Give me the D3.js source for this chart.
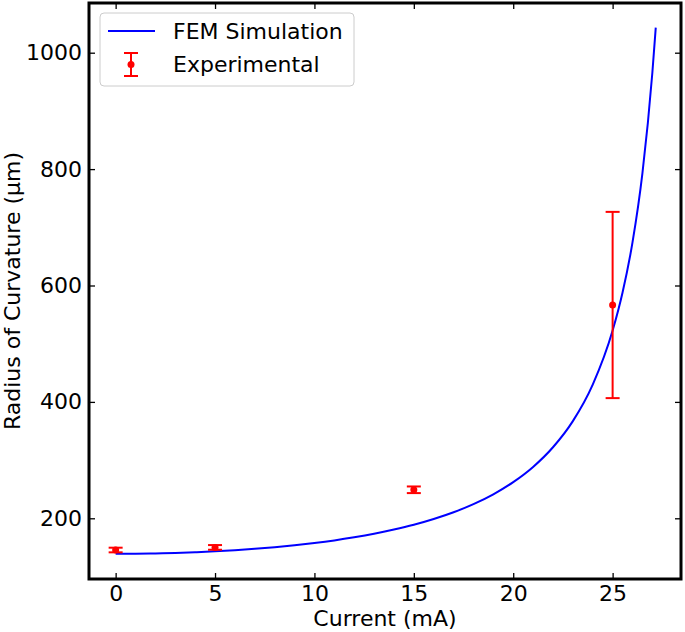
<!DOCTYPE html>
<html>
<head>
<meta charset="utf-8">
<script src="https://cdn.jsdelivr.net/npm/d3@7"></script>
<style>
  body { margin: 0; background: #fff; }
  svg { display: block; font-family: "DejaVu Sans", sans-serif; }
</style>
</head>
<body>
<div id="graph"></div>
<script>
// FEM simulation curve (current in mA, radius in um)
const simCurrent = [0, 1, 2, 3, 4, 5, 6, 7, 8, 9, 10, 11, 12, 13, 14, 15, 16, 17, 18, 19,
  20, 21, 22, 23, 24, 25, 25.5, 26, 26.5, 27, 27.17];
const simRadius = [139, 139.2, 139.7, 140.5, 141.7, 143.2, 145.1, 147.5, 150.3, 153.6,
  157.5, 162, 167.3, 173.4, 180.6, 188.9, 198.8, 210.4, 224.4, 241.3,
  262.2, 288.3, 322.1, 367, 429.7, 522.6, 588, 674, 793, 966, 1043];

// Experimental points with error bars
const expCurrent = [0, 5, 15, 25];
const expRadius = [145.5, 150, 249, 566.5];
const expError = [4, 4, 5.7, 160];

// Tick values
const xTicks = [0, 5, 10, 15, 20, 25];
const yTicks = [200, 400, 600, 800, 1000];

drawChart();

function drawChart() {
  const w = 685;
  const h = 632;
  const left = 89, right = 681, top = 3, bottom = 579;

  const xScale = d3.scaleLinear().domain([-1.34, 28.44]).range([left, right]);
  const yScale = d3.scaleLinear().domain([95.7, 1085.4]).range([bottom, top]);

  const svg = d3.select("#graph")
    .append("svg")
    .attr("width", w)
    .attr("height", h);

  // Simulation line
  const simData = simCurrent.map((c, i) => [c, simRadius[i]]);
  const line = d3.line()
    .x(d => xScale(d[0]))
    .y(d => yScale(d[1]))
    .curve(d3.curveMonotoneX);

  svg.append("path")
    .datum(simData)
    .attr("d", line)
    .attr("fill", "none")
    .attr("stroke", "#0000ff")
    .attr("stroke-width", 2);

  // Error bars
  const expData = expCurrent.map((c, i) => ({ x: c, y: expRadius[i], e: expError[i] }));
  const cap = 7;
  const eb = svg.append("g")
    .attr("stroke", "#ff0000")
    .attr("stroke-width", 2);

  eb.selectAll(".vert")
    .data(expData)
    .enter()
    .append("line")
    .attr("x1", d => xScale(d.x))
    .attr("x2", d => xScale(d.x))
    .attr("y1", d => yScale(d.y - d.e))
    .attr("y2", d => yScale(d.y + d.e));

  eb.selectAll(".capTop")
    .data(expData)
    .enter()
    .append("line")
    .attr("x1", d => xScale(d.x) - cap)
    .attr("x2", d => xScale(d.x) + cap)
    .attr("y1", d => yScale(d.y + d.e))
    .attr("y2", d => yScale(d.y + d.e));

  eb.selectAll(".capBot")
    .data(expData)
    .enter()
    .append("line")
    .attr("x1", d => xScale(d.x) - cap)
    .attr("x2", d => xScale(d.x) + cap)
    .attr("y1", d => yScale(d.y - d.e))
    .attr("y2", d => yScale(d.y - d.e));

  svg.selectAll(".dot")
    .data(expData)
    .enter()
    .append("circle")
    .attr("cx", d => xScale(d.x))
    .attr("cy", d => yScale(d.y))
    .attr("r", 3.5)
    .attr("fill", "#ff0000");

  // Axes, ticks pointing inward on all four sides
  const tickLen = 6;
  const xAxis = d3.axisBottom(xScale).tickValues(xTicks).tickSizeInner(-tickLen).tickSizeOuter(0)
    .tickPadding(6).tickFormat(d3.format("d"));
  const yAxis = d3.axisLeft(yScale).tickValues(yTicks).tickSizeInner(-tickLen).tickSizeOuter(0)
    .tickPadding(7).tickFormat(d3.format("d"));
  const xTop = d3.axisTop(xScale).tickValues(xTicks).tickSizeInner(-tickLen).tickSizeOuter(0).tickFormat("");
  const yRight = d3.axisRight(yScale).tickValues(yTicks).tickSizeInner(-tickLen).tickSizeOuter(0).tickFormat("");

  const gx = svg.append("g").attr("transform", "translate(0," + bottom + ")").call(xAxis);
  const gy = svg.append("g").attr("transform", "translate(" + left + ",0)").call(yAxis);
  const gt = svg.append("g").attr("transform", "translate(0," + top + ")").call(xTop);
  const gr = svg.append("g").attr("transform", "translate(" + right + ",0)").call(yRight);

  [gx, gy, gt, gr].forEach(g => {
    g.select(".domain").remove();
    g.selectAll(".tick line").attr("stroke", "#000").attr("stroke-width", 1.3);
    g.selectAll(".tick text").attr("font-size", 22).attr("fill", "#000")
      .attr("font-family", "DejaVu Sans, sans-serif");
  });

  // Frame
  svg.append("rect")
    .attr("x", left)
    .attr("y", top)
    .attr("width", right - left)
    .attr("height", bottom - top)
    .attr("fill", "none")
    .attr("stroke", "#000")
    .attr("stroke-width", 3);

  // Axis labels
  svg.append("text")
    .attr("x", (left + right) / 2)
    .attr("y", 626)
    .attr("text-anchor", "middle")
    .attr("font-size", 22)
    .text("Current (mA)");

  svg.append("text")
    .attr("transform", "translate(20," + (top + bottom) / 2 + ") rotate(-90)")
    .attr("text-anchor", "middle")
    .attr("font-size", 22)
    .text("Radius of Curvature (µm)");

  // Legend
  const lg = svg.append("g");
  lg.append("rect")
    .attr("x", 100).attr("y", 13)
    .attr("width", 254).attr("height", 73)
    .attr("rx", 4)
    .attr("fill", "#fff").attr("fill-opacity", 0.8)
    .attr("stroke", "#cccccc").attr("stroke-width", 1);
  lg.append("line")
    .attr("x1", 108).attr("x2", 155).attr("y1", 31).attr("y2", 31)
    .attr("stroke", "#0000ff").attr("stroke-width", 2);
  const le = lg.append("g").attr("stroke", "#ff0000").attr("stroke-width", 2);
  le.append("line").attr("x1", 131).attr("x2", 131).attr("y1", 53).attr("y2", 76);
  le.append("line").attr("x1", 131 - cap).attr("x2", 131 + cap).attr("y1", 53).attr("y2", 53);
  le.append("line").attr("x1", 131 - cap).attr("x2", 131 + cap).attr("y1", 76).attr("y2", 76);
  lg.append("circle").attr("cx", 131).attr("cy", 64.5).attr("r", 3.5).attr("fill", "#ff0000");
  lg.append("text").attr("x", 173).attr("y", 39).attr("font-size", 22).text("FEM Simulation");
  lg.append("text").attr("x", 173).attr("y", 72).attr("font-size", 22).text("Experimental");
}
</script>
</body>
</html>
